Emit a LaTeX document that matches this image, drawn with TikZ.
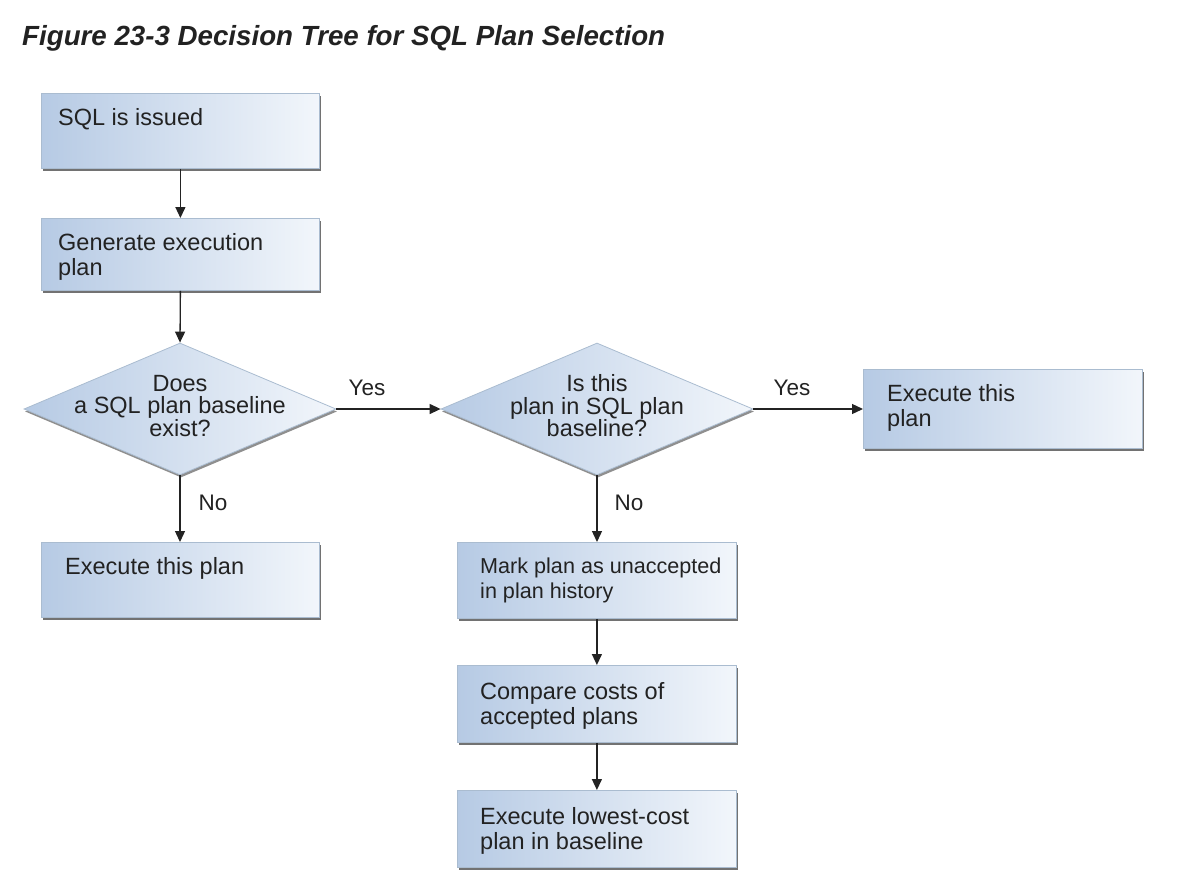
\documentclass[tikz,border=0pt]{standalone}
\usepackage{fontspec}
\setmainfont{Liberation Sans}
\usetikzlibrary{arrows.meta,shapes.geometric,shadows}
\definecolor{boxdark}{RGB}{182,202,228}
\definecolor{boxlight}{RGB}{242,246,251}
\definecolor{boxedge}{RGB}{170,188,208}
\definecolor{txtc}{RGB}{34,34,34}
\definecolor{linec}{RGB}{35,35,35}
\tikzset{
  flowbox/.style={rectangle, draw=boxedge, line width=0.8pt,
    left color=boxdark, right color=boxlight,
    inner sep=0pt, anchor=north west,
    drop shadow={shadow xshift=1.5pt, shadow yshift=-2.5pt, fill=black!65, opacity=0.85}},
  decbox/.style={diamond, draw=boxedge, line width=0.8pt,
    left color=boxdark, right color=boxlight,
    inner sep=0pt, minimum width=312pt, minimum height=132pt,
    drop shadow={shadow xshift=1pt, shadow yshift=-2.5pt, fill=black!55, opacity=0.8}},
  boxtext/.style={anchor=north west, inner sep=0pt, align=left, text=txtc,
    font=\fontsize{23.5}{25}\selectfont},
  dectext/.style={inner sep=0pt, align=center, text=txtc,
    font=\fontsize{23.5}{22.5}\selectfont},
  lbl/.style={anchor=base, inner sep=0pt, text=txtc, font=\fontsize{22.5}{24}\selectfont},
  flowarrow/.style={draw=linec, line width=1.3pt, -{Triangle[length=11pt,width=10pt]}}
}
\begin{document}
\begin{tikzpicture}[x=1pt,y=-1pt]
\useasboundingbox (0,0) rectangle (1190,878);
\node[anchor=base west, inner sep=0pt, text=txtc, font=\fontsize{27.7}{30}\selectfont\bfseries\itshape] (title) at (22,45) {Figure 23-3 Decision Tree for SQL Plan Selection};

\node[flowbox, minimum width=278pt, minimum height=75pt] (b1) at (41,93) {};
\node[boxtext] (t1) at ([shift={(17,15)}]b1.north west) {SQL is issued};

\node[flowbox, minimum width=278pt, minimum height=72pt] (b2) at (41,218) {};
\node[boxtext] (t2) at ([shift={(17,15)}]b2.north west) {Generate execution\\plan};

\node[decbox] (d1) at (180,409) {};
\node[dectext] (td1) at (180,406) {Does\\a SQL plan baseline\\exist?};

\node[decbox] (d2) at (597,409) {};
\node[dectext] (td2) at (597,406) {Is this\\plan in SQL plan\\baseline?};

\node[flowbox, minimum width=279pt, minimum height=79pt] (b4) at (863,369) {};
\node[boxtext] (t4) at ([shift={(24,15)}]b4.north west) {Execute this\\plan};

\node[flowbox, minimum width=278pt, minimum height=75pt] (b3) at (41,542) {};
\node[boxtext] (t3) at ([shift={(24,15)}]b3.north west) {Execute this plan};

\node[flowbox, minimum width=279pt, minimum height=76pt] (b5) at (457,542) {};
\node[boxtext, font=\fontsize{21.6}{25}\selectfont] (t5) at ([shift={(23,16)}]b5.north west) {Mark plan as unaccepted\\in plan history};

\node[flowbox, minimum width=279pt, minimum height=77pt] (b6) at (457,665) {};
\node[boxtext] (t6) at ([shift={(23,17)}]b6.north west) {Compare costs of\\accepted plans};

\node[flowbox, minimum width=279pt, minimum height=77pt] (b7) at (457,790) {};
\node[boxtext] (t7) at ([shift={(23,17)}]b7.north west) {Execute lowest-cost\\plan in baseline};

\draw[flowarrow] (b1.south) -- (b2.north);
\draw[flowarrow] (b2.south) -- (d1.north);
\draw[flowarrow] (d1.east) -- (d2.west);
\draw[flowarrow] (d2.east) -- (d2.east -| b4.west);
\draw[flowarrow] (d1.south) -- (b3.north -| d1.south);
\draw[flowarrow] (d2.south) -- (b5.north -| d2.south);
\draw[flowarrow] (b5.south) -- (b6.north);
\draw[flowarrow] (b6.south) -- (b7.north);

\node[lbl] (y1) at (367,395) {Yes};
\node[lbl] (y2) at (792,395) {Yes};
\node[lbl] (n1) at (213,510) {No};
\node[lbl] (n2) at (629,510) {No};
\end{tikzpicture}
\end{document}
